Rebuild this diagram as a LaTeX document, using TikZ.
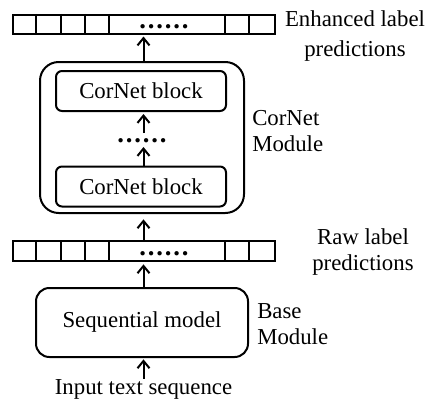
\documentclass[tikz,border=0pt]{standalone}
\usepackage{fontspec}
\setmainfont{Liberation Serif}
\usetikzlibrary{arrows.meta}
\begin{document}
\begin{tikzpicture}[x=0.75pt,y=-0.75pt,
  every node/.style={font=\fontsize{17.1}{19.5}\selectfont},
  bar/.style={draw,line width=1.5pt,minimum width=196.5pt,minimum height=14.5pt,inner sep=0pt},
  outerbox/.style={draw,line width=1.5pt,rounded corners=14pt,minimum width=153pt,minimum height=113.25pt,inner sep=0pt},
  block/.style={draw,line width=1.5pt,rounded corners=4.5pt,minimum width=127.5pt,minimum height=30pt,inner sep=0pt},
  seqbox/.style={draw,line width=1.5pt,rounded corners=10pt,minimum width=159pt,minimum height=51.75pt,inner sep=0pt},
  arr/.style={line width=1.5pt,-{Straight Barb[length=5.5pt,width=9pt,line width=1.5pt]}},
  dotsnode/.style={inner sep=0pt,font=\fontsize{20}{20}\selectfont\bfseries},
  lbl/.style={align=left,inner sep=0pt},
  clbl/.style={align=center,inner sep=0pt}]
\useasboundingbox (0,0) rectangle (426,400);
\newcommand{\sixdots}{.\kern1.4pt.\kern1.4pt.\kern1.4pt.\kern1.4pt.\kern1.4pt.}
% top bar
\node[bar] (top) at (144,24.5) {};
\foreach \dx in {24,49,73,97,213,237}
  \draw[line width=1.5pt] (top.north west) ++(\dx,0) -- ++(0,19.3);
\node[dotsnode,anchor=base] (topdots) at (164,28.5) {\sixdots};
% CorNet module
\node[outerbox] (cornet) at (142,137.5) {};
\node[block] (blk1) at (141,91) {CorNet block};
\node[block] (blk2) at (141,186.5) {CorNet block};
\node[dotsnode,anchor=base] (mdots) at (142,142.5) {\sixdots};
% raw bar
\node[bar] (raw) at (144,251) {};
\foreach \dx in {24,49,73,97,213,237}
  \draw[line width=1.5pt] (raw.north west) ++(\dx,0) -- ++(0,19.3);
\node[dotsnode,anchor=base] (rawdots) at (164,255) {\sixdots};
% base module
\node[seqbox] (seq) at (142,322.5) {Sequential model};
\node[inner sep=0pt,anchor=base] (input) at (143.5,394) {Input text sequence};
% labels
\node[clbl] (enh) at (355,36) {Enhanced label\\[3.5pt] predictions};
\node[lbl,anchor=west] (cml) at (252,131) {CorNet\\ Module};
\node[clbl] (rawl) at (363,252.5) {Raw label\\ predictions};
\node[lbl,anchor=west] (bml) at (257,324.5) {Base\\ Module};
% arrows
\draw[arr,shorten >=1pt] (input.north -| 143.5,0) -- (seq.south -| 143.5,0);
\draw[arr,shorten >=2pt] (seq.north -| 143.5,0) -- (raw.south -| 143.5,0);
\draw[arr,shorten >=4pt] (raw.north -| 143.5,0) -- (cornet.south -| 143.5,0);
\draw[arr] (blk2.north -| 143.5,0) -- (143.5,147);
\draw[arr,shorten >=1.5pt] (143.5,133) -- (blk1.south -| 143.5,0);
\draw[arr,shorten >=1pt] (cornet.north -| 143.5,0) -- (top.south -| 143.5,0);
\end{tikzpicture}
\end{document}
